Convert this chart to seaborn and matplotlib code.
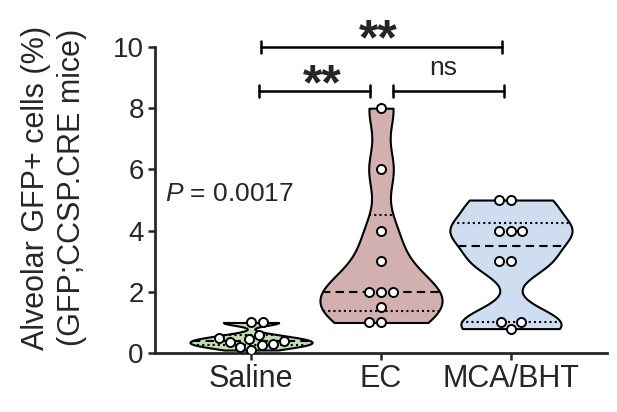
import numpy as np
import pandas as pd
import seaborn as sns
import matplotlib.pyplot as plt

# Values
groups = ["Saline", "EC", "MCA/BHT"]
saline = [1.0, 1.0, 0.6, 0.5, 0.45, 0.4, 0.35, 0.3, 0.25, 0.2, 0.1]
ec = [8, 6, 4, 3, 2, 2, 2, 1.5, 1, 1]
mca_bht = [5, 5, 4, 4, 4, 3, 3, 1, 1, 0.8]
colors = ["#bde6ab", "#d8aaaa", "#c8dcf5"]
p_text = "$P$ = 0.0017"

df = pd.DataFrame({
    "group": ["Saline"] * len(saline) + ["EC"] * len(ec) + ["MCA/BHT"] * len(mca_bht),
    "value": saline + ec + mca_bht,
})

sns.set_style("ticks")
plt.rcParams["font.family"] = ["Liberation Sans", "DejaVu Sans"]
plt.rcParams["mathtext.fontset"] = "custom"
plt.rcParams["mathtext.it"] = "Liberation Sans:italic"
plt.rcParams["mathtext.rm"] = "Liberation Sans"

fig = plt.figure(figsize=(6.17, 4.12), dpi=100)
ax = fig.add_axes([0.251, 0.143, 0.733, 0.743])

sns.violinplot(data=df, x="group", y="value", hue="group", order=groups,
               palette=dict(zip(groups, colors)), legend=False, cut=0,
               inner=None, density_norm="width", width=0.94, bw_adjust=0.5,
               linecolor="black", linewidth=1.5, ax=ax)


def poly_extent(coll, y):
    # left/right edges of a violin polygon at height y
    xs = []
    for path in coll.get_paths():
        v = path.vertices
        for (x0, y0), (x1, y1) in zip(v[:-1], v[1:]):
            if (y0 - y) * (y1 - y) <= 0 and y0 != y1:
                xs.append(x0 + (y - y0) * (x1 - x0) / (y1 - y0))
    return min(xs), max(xs)


def prism_quartiles(vals):
    s = np.sort(vals)
    n = len(s)
    out = []
    for q in (0.25, 0.5, 0.75):
        pos = q * (n + 1) - 1
        lo = int(np.floor(pos))
        hi = min(lo + 1, n - 1)
        out.append(s[lo] + (pos - lo) * (s[hi] - s[lo]))
    return out


violins = list(ax.collections)
for coll, vals in zip(violins, [saline, ec, mca_bht]):
    q1, med, q3 = prism_quartiles(vals)
    for yv, ls in ((q1, (0, (1, 1.5))), (med, (0, (4, 2.5))), (q3, (0, (1, 1.5)))):
        x0, x1 = poly_extent(coll, yv)
        ax.plot([x0, x1], [yv, yv], color="black", lw=1.5, ls=ls, zorder=3)

sns.swarmplot(data=df, x="group", y="value", order=groups, color="white",
              edgecolor="black", linewidth=1.4, size=6.5, ax=ax, zorder=4)

ax.set_xlim(-0.74, 2.74)
ax.set_ylim(0, 10)
ax.set_yticks([0, 2, 4, 6, 8, 10])
ax.set_xlabel("")
ax.set_ylabel("Alveolar GFP+ cells (%)\n(GFP;CCSP.CRE mice)", fontsize=22,
              linespacing=1.25)
ax.yaxis.set_label_coords(-0.15, 0.54)
sns.despine(ax=ax)
for side in ("left", "bottom"):
    ax.spines[side].set_linewidth(2)
ax.tick_params(axis="both", width=1.8, length=5, pad=3)
ax.tick_params(axis="x", labelsize=22)
ax.tick_params(axis="y", labelsize=20)

ax.text(-0.66, 5.2, p_text, fontsize=19, va="center", ha="left")


def sig_bar(x0, x1, y):
    ax.plot([x0, x1], [y, y], color="black", lw=1.8, clip_on=False)
    for xe in (x0, x1):
        ax.plot([xe, xe], [y - 0.2, y + 0.2], color="black", lw=1.8, clip_on=False)


sig_bar(0.08, 1.93, 10.0)
sig_bar(0.06, 0.915, 8.55)
sig_bar(1.09, 1.95, 8.55)
ax.text(0.977, 10.95, "**", ha="center", va="top", fontsize=36,
        fontweight="bold", clip_on=False)
ax.text(0.546, 9.48, "**", ha="center", va="top", fontsize=36,
        fontweight="bold", clip_on=False)
ax.text(1.48, 9.1, "ns", ha="center", va="baseline", fontsize=19,
        clip_on=False)

fig.savefig("out.png", dpi=100)
